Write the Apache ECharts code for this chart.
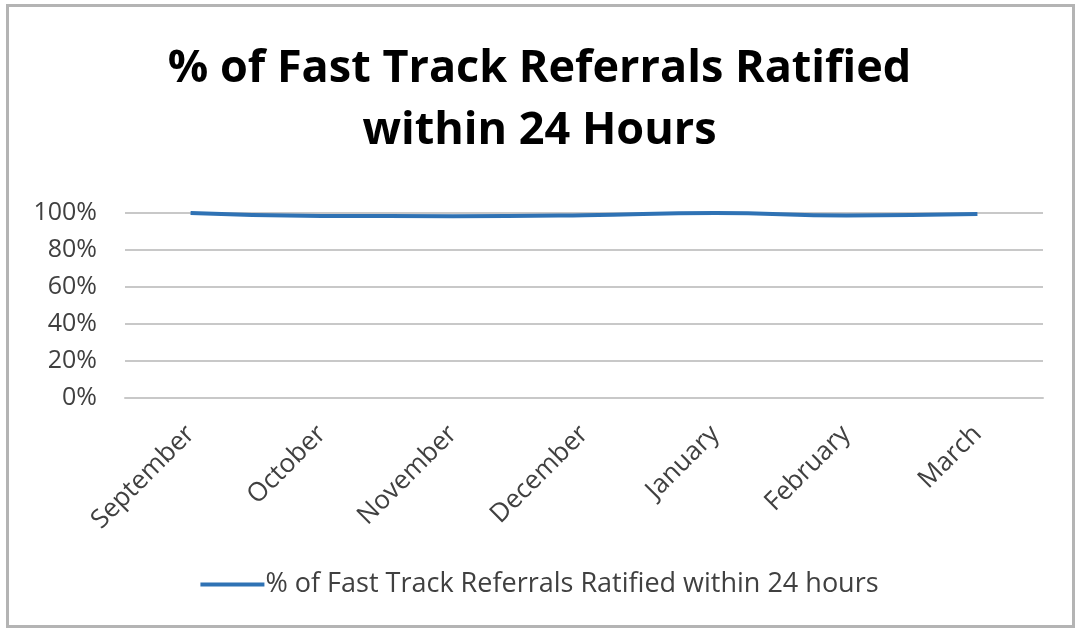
<!DOCTYPE html>
<html>
<head>
<meta charset="utf-8">
<script src="https://cdn.jsdelivr.net/npm/echarts@6/dist/echarts.min.js"></script>
<style>
    html, body { margin: 0; padding: 0; background: #fff; }
    #frame {
        position: absolute; left: 6px; top: 4px; width: 1063px; height: 618px;
        border: 3px solid #b4b4b4; box-sizing: content-box;
    }
    #chart { position: absolute; left: 0; top: 0; width: 1079px; height: 629px; }
</style>
</head>
<body>
<div id="frame"></div>
<div id="chart"></div>
<script>
const months = ['September', 'October', 'November', 'December', 'January', 'February', 'March']
const ratified = [1.0, 0.984, 0.983, 0.988, 1.0, 0.987, 0.994]
const seriesName = '% of Fast Track Referrals Ratified within 24 hours'

const chart = echarts.init(document.getElementById('chart'))
const option = {
    animation: false,
    title: {
        text: '% of Fast Track Referrals Ratified\nwithin 24 Hours',
        left: 'center',
        top: 33,
        textStyle: {
            fontFamily: 'Open Sans',
            fontWeight: 'bold',
            fontSize: 45,
            lineHeight: 62,
            color: '#000'
        }
    },
    legend: {
        bottom: 26,
        left: 'center',
        itemWidth: 64,
        itemHeight: 4,
        icon: 'rect',
        itemGap: 0,
        textStyle: { fontFamily: 'Open Sans', fontSize: 27, color: '#404040', padding: [0, 0, 0, -4] },
        data: [seriesName]
    },
    grid: { left: 125, right: 36, top: 213, bottom: 231 },
    xAxis: {
        type: 'category',
        data: months,
        boundaryGap: true,
        axisLine: { lineStyle: { color: '#c8c8c8', width: 2 } },
        axisTick: { show: false },
        axisLabel: {
            rotate: 45,
            margin: 32,
            fontFamily: 'Open Sans',
            fontSize: 26,
            color: '#404040'
        }
    },
    yAxis: {
        type: 'value',
        min: 0,
        max: 1,
        interval: 0.2,
        axisLine: { show: false },
        axisTick: { show: false },
        splitLine: { lineStyle: { color: '#c8c8c8', width: 2 } },
        axisLabel: {
            margin: 28,
            fontFamily: 'Open Sans',
            fontSize: 25,
            color: '#404040',
            formatter: v => Math.round(v * 100) + '%'
        }
    },
    series: [{
        name: seriesName,
        type: 'line',
        data: ratified,
        smooth: true,
        symbol: 'none',
        lineStyle: { color: '#2f72b4', width: 4 },
        itemStyle: { color: '#2f72b4' }
    }]
}
chart.setOption(option)
</script>
</body>
</html>
